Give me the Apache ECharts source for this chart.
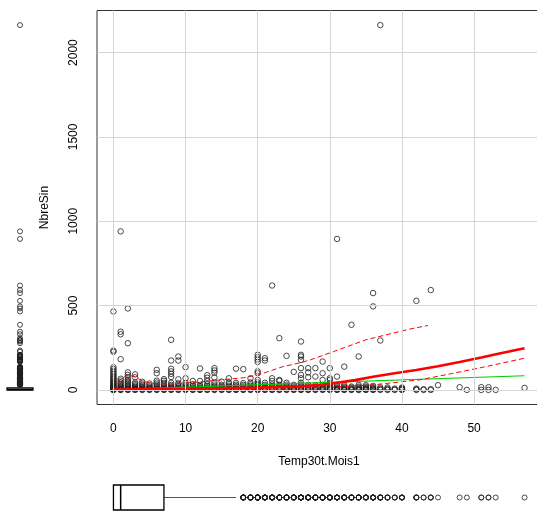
<!DOCTYPE html>
<html>
<head>
<meta charset="utf-8">
<title>NbreSin vs Temp30t.Mois1</title>
<script src="https://cdn.jsdelivr.net/npm/echarts@6/dist/echarts.min.js"></script>
<style>
  html, body { margin: 0; padding: 0; background: #ffffff; }
  #chart { width: 537px; height: 511px; }
</style>
</head>
<body>
<div id="chart"></div>
<script>
// Distinct values of Temp30t.Mois1 present in the sample
const tempMois = [
  0, 1, 2, 3, 4, 5, 6, 7, 8, 9, 10, 11, 12, 13, 14, 15, 16, 17, 18, 19, 20,
  21, 22, 23, 24, 25, 26, 27, 28, 29, 30, 31, 32, 33, 34, 35, 36, 37, 38, 39, 40,
  42, 43, 44, 45, 48, 49, 51, 52, 53, 57
];

// NbreSin observed for each Temp30t.Mois1 value (same order as tempMois)
const nbreSin = [
  [0, 0, 1, 2, 4, 6, 9, 12, 15, 19, 23, 28, 33, 38, 44, 50, 56, 63, 70, 78, 86, 95, 104, 114, 124, 134, 226, 233, 465],
  [0, 1, 3, 6, 10, 15, 21, 28, 36, 45, 55, 66, 182, 330, 345, 940],
  [0, 2, 5, 9, 14, 20, 27, 35, 44, 52, 61, 74, 89, 104, 277, 483],
  [0, 2, 5, 9, 14, 20, 27, 35, 44, 75, 92],
  [0, 2, 5, 9, 14, 21, 29, 38, 48],
  [0, 2, 5, 9, 14, 20, 28, 38],
  [0, 2, 5, 10, 16, 24, 33, 44, 55, 99, 119],
  [0, 2, 5, 9, 15, 22, 31, 42, 54, 64],
  [0, 2, 5, 9, 14, 21, 30, 42, 77, 95, 110, 125, 174, 297],
  [0, 2, 5, 9, 14, 21, 30, 40, 63, 174, 198],
  [0, 2, 5, 9, 15, 22, 31, 42, 69, 135],
  [0, 2, 5, 10, 16, 24, 34, 53],
  [0, 2, 5, 9, 14, 21, 30, 53, 127],
  [0, 2, 5, 10, 16, 24, 34, 53, 72, 87],
  [0, 2, 5, 9, 15, 22, 32, 44, 74, 101, 115, 129],
  [0, 2, 5, 9, 14, 21, 30, 49],
  [0, 2, 5, 10, 16, 24, 34, 45, 69],
  [0, 2, 5, 9, 15, 22, 31, 42, 126],
  [0, 2, 5, 9, 14, 21, 30, 40, 123],
  [0, 2, 5, 10, 16, 24, 33, 44, 69],
  [0, 1, 3, 6, 10, 15, 21, 28, 36, 45, 59, 99, 110, 166, 180, 194, 208],
  [0, 2, 5, 9, 14, 21, 30, 42, 174, 188],
  [0, 2, 5, 9, 15, 22, 32, 53, 69, 619],
  [0, 2, 5, 9, 14, 21, 30, 53, 59, 307],
  [0, 2, 5, 9, 15, 22, 31, 42, 202],
  [0, 2, 5, 9, 14, 21, 30, 107],
  [0, 2, 5, 9, 15, 22, 31, 42, 69, 89, 129, 178, 198, 208, 287],
  [0, 2, 5, 9, 14, 21, 30, 75, 104, 129],
  [0, 2, 5, 9, 14, 20, 28, 79, 129],
  [0, 2, 5, 9, 14, 21, 30, 59, 99, 168],
  [0, 2, 5, 9, 14, 20, 28, 38, 59, 69, 129],
  [0, 2, 5, 9, 14, 21, 30, 79, 895],
  [0, 2, 5, 9, 14, 20, 28, 138],
  [0, 2, 5, 9, 14, 20, 386],
  [0, 2, 5, 9, 14, 20, 30, 198],
  [0, 2, 5, 9, 14, 20, 28],
  [0, 2, 5, 10, 16, 24, 495, 574],
  [0, 3, 8, 15, 293, 2163],
  [0, 3, 8, 15],
  [0, 3, 8],
  [0, 2, 5, 9, 14],
  [0, 3, 8, 528],
  [0, 4],
  [0, 4, 592],
  [28],
  [16],
  [0],
  [0, 16],
  [0, 16],
  [0],
  [12]
];

// Least-squares line (green) and loess smoother with spread (red)
const fitLinear = [[0, 2], [57, 84]];
const fitLoess = [
  [0, 2], [10, 6], [20, 14], [26, 22], [29, 30], [31, 42], [33.5, 58], [36, 78],
  [39, 99], [42, 118], [45, 140], [48, 165], [51, 192], [54, 220], [57, 247]
];
const spreadUpper = [
  [0, 0], [1, 65], [2, 88], [3, 78], [4, 52], [5, 42], [6, 36], [8, 35], [10, 42],
  [12, 47], [14, 56], [16, 64], [18, 72], [20, 88], [21.2, 105], [23.5, 138],
  [26, 162], [27.3, 178], [30.5, 227], [35, 297], [41, 360], [43.6, 382]
];
const spreadLower = [
  [0, 0], [10, 2], [20, 8], [30, 15], [36, 30], [42.5, 60], [46.7, 95], [51.3, 135], [57, 188]
];

// Marginal box summaries: [lower whisker, Q1, median, Q3, upper whisker]
const boxTemp = [0, 0, 1, 7, 17];
const boxSin = [0, 0, 2, 12, 30];

// Tick positions
const xTicks = [0, 10, 20, 30, 40, 50];
const yTicks = [0, 500, 1000, 1500, 2000];

// ---- build point list ----
const points = [];
tempMois.forEach((t, i) => nbreSin[i].forEach(n => points.push([t, n])));
const allX = points.map(p => p[0]);
const allY = points.map(p => p[1]);

// R-style axis limits: data range widened by 4% on each side
function padded(vals) {
  const lo = Math.min(...vals), hi = Math.max(...vals);
  const pad = (hi - lo) * 0.04;
  return [lo - pad, hi + pad];
}
const [xMin, xMax] = padded(allX);
const [yMin, yMax] = padded(allY);

const FONT = '"Liberation Sans", Arial, sans-serif';
const circleStyle = { color: 'rgba(0,0,0,0)', borderColor: '#1e1e1e', borderWidth: 1 };

function boxRenderer(vertical, halfWidth) {
  return function (params, api) {
    const vals = [0, 1, 2, 3, 4].map(i => api.value(i));
    const pt = v => vertical ? api.coord([0.5, v]) : api.coord([v, 0.5]);
    const [lo, q1, md, q3, hi] = vals.map(pt);
    const whisker = { stroke: '#555', lineWidth: 1 };
    const edge = { stroke: '#000', lineWidth: 1.3, fill: null };
    const children = [];
    if (vertical) {
      const cx = lo[0];
      children.push({ type: 'line', shape: { x1: cx, y1: lo[1], x2: cx, y2: q1[1] }, style: whisker });
      children.push({ type: 'line', shape: { x1: cx, y1: q3[1], x2: cx, y2: hi[1] }, style: whisker });
      children.push({ type: 'rect', shape: { x: cx - halfWidth, y: q3[1], width: 2 * halfWidth, height: q1[1] - q3[1] }, style: edge });
      children.push({ type: 'line', shape: { x1: cx - halfWidth, y1: md[1], x2: cx + halfWidth, y2: md[1] }, style: { stroke: '#000', lineWidth: 2 } });
    } else {
      const cy = lo[1];
      children.push({ type: 'line', shape: { x1: lo[0], y1: cy, x2: q1[0], y2: cy }, style: whisker });
      children.push({ type: 'line', shape: { x1: q3[0], y1: cy, x2: hi[0], y2: cy }, style: whisker });
      children.push({ type: 'rect', shape: { x: q1[0], y: cy - halfWidth, width: q3[0] - q1[0], height: 2 * halfWidth }, style: edge });
      children.push({ type: 'line', shape: { x1: md[0], y1: cy - halfWidth, x2: md[0], y2: cy + halfWidth }, style: { stroke: '#000', lineWidth: 1.5 } });
    }
    return { type: 'group', children };
  };
}

const labelStyle = { color: '#000', fontSize: 12, fontFamily: FONT };
const plainNumber = v => String(v);

const option = {
  animation: false,
  backgroundColor: '#ffffff',
  grid: [
    { left: 97, top: 10.5, width: 444, height: 394, outerBoundsMode: 'none', containLabel: false,
      show: true, borderColor: '#333', borderWidth: 1, backgroundColor: 'transparent' },
    { left: 0, top: 10.5, width: 40, height: 394, outerBoundsMode: 'none', containLabel: false },
    { left: 97, top: 483, width: 444, height: 29, outerBoundsMode: 'none', containLabel: false }
  ],
  xAxis: [
    {
      gridIndex: 0, type: 'value', min: xMin, max: xMax,
      axisLine: { show: false },
      axisTick: { show: true, length: 7, customValues: xTicks, lineStyle: { color: '#444' } },
      axisLabel: Object.assign({ customValues: xTicks, margin: 18, formatter: plainNumber }, labelStyle),
      splitLine: { show: false },
      name: 'Temp30t.Mois1', nameLocation: 'middle', nameGap: 51,
      nameTextStyle: labelStyle
    },
    { gridIndex: 1, type: 'value', min: 0, max: 1, show: false },
    { gridIndex: 2, type: 'value', min: xMin, max: xMax, show: false }
  ],
  yAxis: [
    {
      gridIndex: 0, type: 'value', min: yMin, max: yMax,
      axisLine: { show: false },
      axisTick: { show: true, length: 7, customValues: yTicks, lineStyle: { color: '#444' } },
      axisLabel: Object.assign({ customValues: yTicks, margin: 17, rotate: 90, formatter: plainNumber }, labelStyle),
      splitLine: { show: false },
      name: 'NbreSin', nameLocation: 'middle', nameGap: 46, nameRotate: 90,
      nameTextStyle: labelStyle
    },
    { gridIndex: 1, type: 'value', min: yMin, max: yMax, show: false },
    { gridIndex: 2, type: 'value', min: 0, max: 1, show: false }
  ],
  series: [
    {
      // reference grid
      type: 'line', xAxisIndex: 0, yAxisIndex: 0, data: [], z: 0,
      markLine: {
        silent: true, animation: false, symbol: ['none', 'none'],
        label: { show: false },
        lineStyle: { color: '#d6d6d6', type: 'solid', width: 1 },
        data: xTicks.map(v => ({ xAxis: v })).concat(yTicks.map(v => ({ yAxis: v })))
      }
    },
    {
      type: 'scatter', xAxisIndex: 0, yAxisIndex: 0, data: points,
      symbol: 'circle', symbolSize: 5.5, itemStyle: circleStyle, z: 2
    },
    {
      type: 'line', xAxisIndex: 0, yAxisIndex: 0, data: fitLinear, showSymbol: false,
      lineStyle: { color: '#00cd00', width: 1.2 }, z: 3
    },
    {
      type: 'line', xAxisIndex: 0, yAxisIndex: 0, data: spreadUpper, showSymbol: false,
      lineStyle: { color: '#ff0000', width: 1, type: [5, 3] }, z: 3
    },
    {
      type: 'line', xAxisIndex: 0, yAxisIndex: 0, data: spreadLower, showSymbol: false,
      lineStyle: { color: '#ff0000', width: 1, type: [5, 3] }, z: 3
    },
    {
      type: 'line', xAxisIndex: 0, yAxisIndex: 0, data: fitLoess, showSymbol: false,
      lineStyle: { color: '#ff0000', width: 2.6 }, z: 4
    },
    // marginal box for NbreSin
    {
      type: 'custom', xAxisIndex: 1, yAxisIndex: 1, data: [boxSin],
      renderItem: boxRenderer(true, 13), z: 2
    },
    {
      type: 'scatter', xAxisIndex: 1, yAxisIndex: 1,
      data: allY.filter(v => v > boxSin[4]).map(v => [0.5, v]),
      symbol: 'circle', symbolSize: 5, itemStyle: circleStyle, z: 2
    },
    // marginal box for Temp30t.Mois1
    {
      type: 'custom', xAxisIndex: 2, yAxisIndex: 2, data: [boxTemp],
      renderItem: boxRenderer(false, 12.5), z: 2
    },
    {
      type: 'scatter', xAxisIndex: 2, yAxisIndex: 2,
      data: allX.filter(v => v > boxTemp[4]).map(v => [v, 0.5]),
      symbol: 'circle', symbolSize: 5, itemStyle: circleStyle, z: 2
    }
  ]
};

const chart = echarts.init(document.getElementById('chart'), null, { renderer: 'canvas' });
chart.setOption(option);
</script>
</body>
</html>
